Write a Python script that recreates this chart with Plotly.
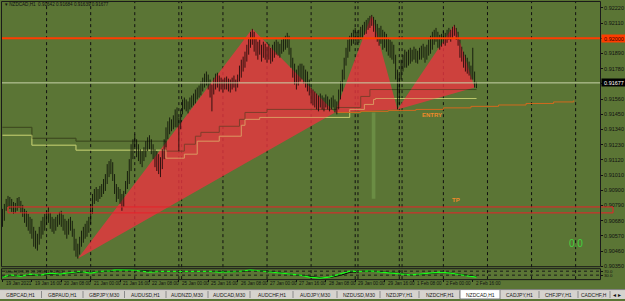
import plotly.graph_objects as go

W, H = 625, 301
BG = "#5b7535"
FONT = "Liberation Sans, Arial, sans-serif"

# ---------------- data ----------------
symbol = "NZDCAD,H1"
last_ohlc = [0.91642, 0.91684, 0.91639, 0.91677]

bar_high = [
    0.90765, 0.90801, 0.90837, 0.90859, 0.90851, 0.90837, 0.90815, 0.90808, 0.90844, 0.90851,
    0.90823, 0.90794, 0.90765, 0.90751, 0.90729, 0.90707, 0.90693, 0.90635, 0.90607, 0.90585,
    0.90635, 0.90679, 0.90707, 0.90729, 0.90751, 0.90779, 0.90736, 0.90707, 0.90693, 0.90707,
    0.90722, 0.90743, 0.90751, 0.90722, 0.90693, 0.90679, 0.90693, 0.90707, 0.90679, 0.90621,
    0.90549, 0.90513, 0.90563, 0.90607, 0.90635, 0.90657, 0.90679, 0.90707, 0.90801, 0.90873,
    0.90909, 0.90923, 0.90909, 0.90931, 0.90945, 0.90981, 0.91017, 0.91089, 0.91111, 0.91125,
    0.91103, 0.91017, 0.90945, 0.90923, 0.90909, 0.90873, 0.90895, 0.90967, 0.91039, 0.91125,
    0.91233, 0.91269, 0.91305, 0.91269, 0.91233, 0.91197, 0.91183, 0.91211, 0.91255, 0.91283,
    0.91298, 0.91269, 0.91233, 0.91197, 0.91183, 0.91161, 0.91139, 0.91197, 0.91269, 0.91355,
    0.91399, 0.91427, 0.91413, 0.91442, 0.91485, 0.91499, 0.91427, 0.91485, 0.91557, 0.91571,
    0.91557, 0.91543, 0.91571, 0.91586, 0.91600, 0.91629, 0.91643, 0.91658, 0.91687, 0.91715,
    0.91744, 0.91759, 0.91737, 0.91701, 0.91665, 0.91715, 0.91744, 0.91751, 0.91730, 0.91715,
    0.91701, 0.91715, 0.91723, 0.91708, 0.91701, 0.91715, 0.91730, 0.91701, 0.91737, 0.91802,
    0.91845, 0.91867, 0.91903, 0.91953, 0.92003, 0.92047, 0.92068, 0.92047, 0.92003, 0.91975,
    0.91989, 0.91953, 0.91975, 0.91960, 0.91939, 0.91960, 0.91931, 0.91953, 0.91975, 0.91989,
    0.91975, 0.91960, 0.91989, 0.92003, 0.92018, 0.92039, 0.92018, 0.91931, 0.91859, 0.91816,
    0.91773, 0.91802, 0.91816, 0.91816, 0.91802, 0.91773, 0.91759, 0.91701, 0.91643, 0.91629,
    0.91615, 0.91600, 0.91586, 0.91600, 0.91586, 0.91571, 0.91593, 0.91579, 0.91557, 0.91571,
    0.91586, 0.91557, 0.91543, 0.91629, 0.91687, 0.91773, 0.91859, 0.91931, 0.91989, 0.92018,
    0.92039, 0.92061, 0.92075, 0.92047, 0.92061, 0.92083, 0.92097, 0.92119, 0.92133, 0.92147,
    0.92162, 0.92169, 0.92155, 0.92133, 0.92104, 0.92075, 0.92090, 0.92061, 0.92047, 0.92032,
    0.92003, 0.91989, 0.91975, 0.91953, 0.91881, 0.91773, 0.91737, 0.91845, 0.91881, 0.91917,
    0.91903, 0.91917, 0.91931, 0.91917, 0.91939, 0.91924, 0.91910, 0.91931, 0.91946, 0.91960,
    0.91939, 0.91953, 0.91989, 0.92018, 0.92047, 0.92061, 0.92075, 0.92047, 0.92025, 0.92032,
    0.92054, 0.92039, 0.92061, 0.92075, 0.92061, 0.92083, 0.92097, 0.92075, 0.92047, 0.91989,
    0.91939, 0.91903, 0.91881, 0.91859, 0.91831, 0.91802, 0.91931, 0.91759, 0.91684,
]
bar_low = [
    0.90635, 0.90679, 0.90751, 0.90779, 0.90765, 0.90743, 0.90729, 0.90736, 0.90751, 0.90772,
    0.90736, 0.90707, 0.90664, 0.90635, 0.90607, 0.90585, 0.90549, 0.90491, 0.90477, 0.90463,
    0.90506, 0.90549, 0.90578, 0.90607, 0.90650, 0.90664, 0.90621, 0.90599, 0.90585, 0.90607,
    0.90635, 0.90650, 0.90635, 0.90607, 0.90578, 0.90549, 0.90578, 0.90607, 0.90563, 0.90463,
    0.90419, 0.90405, 0.90434, 0.90491, 0.90520, 0.90549, 0.90563, 0.90592, 0.90657, 0.90729,
    0.90801, 0.90823, 0.90815, 0.90837, 0.90851, 0.90873, 0.90895, 0.90945, 0.90995, 0.91017,
    0.90967, 0.90873, 0.90815, 0.90837, 0.90801, 0.90751, 0.90779, 0.90873, 0.90909, 0.90945,
    0.91039, 0.91125, 0.91197, 0.91139, 0.91111, 0.91089, 0.91067, 0.91111, 0.91139, 0.91183,
    0.91197, 0.91161, 0.91125, 0.91067, 0.91039, 0.91017, 0.90995, 0.91053, 0.91125, 0.91211,
    0.91269, 0.91305, 0.91327, 0.91341, 0.91355, 0.91355, 0.91183, 0.91341, 0.91449, 0.91485,
    0.91471, 0.91456, 0.91485, 0.91499, 0.91514, 0.91528, 0.91557, 0.91571, 0.91586, 0.91615,
    0.91643, 0.91658, 0.91629, 0.91571, 0.91471, 0.91593, 0.91629, 0.91643, 0.91615, 0.91629,
    0.91607, 0.91629, 0.91629, 0.91615, 0.91607, 0.91629, 0.91643, 0.91615, 0.91643, 0.91687,
    0.91715, 0.91759, 0.91787, 0.91831, 0.91881, 0.91931, 0.91953, 0.91903, 0.91874, 0.91845,
    0.91881, 0.91831, 0.91859, 0.91845, 0.91823, 0.91845, 0.91816, 0.91831, 0.91859, 0.91881,
    0.91874, 0.91859, 0.91888, 0.91903, 0.91917, 0.91931, 0.91881, 0.91787, 0.91715, 0.91665,
    0.91629, 0.91658, 0.91687, 0.91701, 0.91672, 0.91643, 0.91615, 0.91586, 0.91528, 0.91514,
    0.91499, 0.91485, 0.91471, 0.91499, 0.91485, 0.91471, 0.91499, 0.91485, 0.91471, 0.91485,
    0.91499, 0.91463, 0.91449, 0.91485, 0.91557, 0.91615, 0.91701, 0.91802, 0.91859, 0.91903,
    0.91946, 0.91960, 0.91975, 0.91953, 0.91967, 0.91989, 0.92003, 0.92025, 0.92032, 0.92061,
    0.92075, 0.92090, 0.92047, 0.92003, 0.91975, 0.91946, 0.91960, 0.91917, 0.91931, 0.91903,
    0.91874, 0.91859, 0.91845, 0.91816, 0.91701, 0.91485, 0.91521, 0.91701, 0.91759, 0.91787,
    0.91787, 0.91802, 0.91816, 0.91831, 0.91845, 0.91823, 0.91816, 0.91845, 0.91845, 0.91859,
    0.91823, 0.91845, 0.91874, 0.91888, 0.91917, 0.91953, 0.91975, 0.91931, 0.91917, 0.91939,
    0.91960, 0.91946, 0.91967, 0.91989, 0.91975, 0.92003, 0.92018, 0.91989, 0.91946, 0.91859,
    0.91831, 0.91787, 0.91759, 0.91744, 0.91730, 0.91701, 0.91701, 0.91643, 0.91639,
]
bar_index = list(range(len(bar_high)))

price_ticks = [0.90350, 0.90460, 0.90570, 0.90680, 0.90790, 0.90900, 0.91010, 0.91120, 0.91230,
               0.91340, 0.91450, 0.91560, 0.91670, 0.91780, 0.91890, 0.92000, 0.92110, 0.92220]
price_tick_text = ["0.90350", "0.90460", "0.90570", "0.90680", "0.90790", "0.90900", "0.91010",
                   "0.91120", "0.91230", "0.91340", "0.91450", "0.91560", "0.91670", "0.91780",
                   "0.91890", "0.92000", "0.92110", "0.92220"]

date_idx = [0, 16, 32, 48, 64, 80, 96, 112, 128, 144, 160, 176, 192, 208, 224, 240, 256]
date_labels = ["19 Jan 2021", "19 Jan 16:00", "20 Jan 08:00", "21 Jan 00:00", "21 Jan 16:00",
               "22 Jan 08:00", "25 Jan 00:00", "25 Jan 16:00", "26 Jan 08:00", "27 Jan 00:00",
               "27 Jan 16:00", "28 Jan 08:00", "29 Jan 00:00", "29 Jan 16:00", "1 Feb 08:00",
               "2 Feb 00:00", "2 Feb 16:00"]

day_sep_idx = [24, 48, 72, 96, 120, 144, 168, 192, 216, 240, 264, 288, 312]
extra_sep_idx = [97.5, 193.5, 217.5]

# harmonic pattern triangles (bar index, price)
tri_x = [[41, 136, 181], [181, 201, 215], [215, 246, 257]]
tri_y = [[0.90405, 0.92068, 0.91463], [0.91463, 0.92169, 0.91485], [0.91485, 0.92097, 0.91643]]

# two step lines
dark_x = [0, 16, 40, 89, 99, 105, 108, 118, 129, 132, 144, 182, 195, 200, 258]
dark_y = [0.91355, 0.91276, 0.91255, 0.91183, 0.91233, 0.91291, 0.91319, 0.91363, 0.91413,
          0.91463, 0.91485, 0.91499, 0.91579, 0.91629, 0.91629]
light_x = [0, 16, 40, 89, 99, 106, 118, 130, 132, 140, 189, 197, 202, 203, 258]
light_y = [0.91298, 0.91226, 0.91190, 0.91132, 0.91161, 0.91255, 0.91291, 0.91370, 0.91413,
           0.91427, 0.91485, 0.91521, 0.91557, 0.91564, 0.91564]

# rising orange projection line
orange_x = [182, 195, 210, 225, 240, 255, 270, 285, 300, 311]
orange_y = [0.91463, 0.91471, 0.91478, 0.91485, 0.91496, 0.91507, 0.91517, 0.91528, 0.91539, 0.91550]

resist_level = 0.92000
tp_top, tp_bottom = 0.90779, 0.90736
zone_x = [201, 203]
zone_y = [0.90839, 0.91463]

# oscillator sub-window
osc_x = [0, 4, 10, 15, 20, 26, 31, 42, 48, 53, 59, 61, 71, 75, 80, 86, 91, 97, 102, 108, 113, 118,
         124, 129, 135, 140, 146, 151, 157, 162, 167, 173, 178, 184, 189, 195, 200, 206, 211, 216,
         222, 227, 233, 238, 244, 249, 254, 258]
osc_main = [7, 33, 17, 40, 27, 50, 40, 67, 50, 67, 73, 83, 80, 73, 60, 67, 67, 67, 67, 73, 67, 60,
            67, 67, 83, 73, 60, 50, 40, 30, 10, 0, 10, 40, 70, 67, 73, 60, 50, 40, 33, 40, 50, 60,
            50, 33, 20, 10]
osc_signal = [10, 25, 22, 32, 30, 42, 42, 58, 55, 62, 70, 76, 80, 76, 65, 65, 66, 66, 66, 70, 68, 63,
              65, 66, 77, 76, 65, 55, 45, 35, 18, 5, 6, 28, 58, 68, 70, 64, 55, 45, 36, 38, 46, 56,
              53, 40, 27, 15]
osc_levels = [70, 30]

tab_names = ["GBPCAD,H1", "GBPAUD,H1", "GBPJPY,M30", "AUDUSD,H1", "AUDNZD,M30", "AUDCAD,M30",
             "AUDCHF,H1", "AUDJPY,M30", "NZDUSD,M30", "NZDJPY,H1", "NZDCHF,H1", "NZDCAD,H1",
             "CADJPY,H1", "CHFJPY,H1", "CADCHF,H"]
active_tab = "NZDCAD,H1"

# ---------------- layout helpers ----------------
tab_edges = [0, 41.5, 83, 124.5, 166, 208, 250, 293, 337, 380, 419, 460, 500, 539, 578, 610]
PX_PER_BAR = 1.837
X0_PX = 2.5


def idx_at(px):
    return (px - X0_PX) / PX_PER_BAR


def price_at(pix):
    return 0.90350 + (268 - pix) * 0.0000719


def pxp(px):
    return px / W


def pyp(py):
    return 1 - py / H


xr = [idx_at(2), idx_at(600)]
yr = [price_at(269), price_at(2)]

fig = go.Figure()

# step lines
fig.add_trace(go.Scatter(x=dark_x, y=dark_y, mode="lines", line=dict(color="#38401c", width=1, shape="hv"),
                         opacity=0.6, hoverinfo="skip"))
fig.add_trace(go.Scatter(x=light_x, y=light_y, mode="lines", line=dict(color="#d6de7b", width=1, shape="hv"),
                         opacity=0.6, hoverinfo="skip"))
# triangles
for tx, ty in zip(tri_x, tri_y):
    fig.add_trace(go.Scatter(x=tx + [tx[0]], y=ty + [ty[0]], mode="lines", fill="toself",
                             fillcolor="rgba(234,52,64,0.8)", line=dict(width=0), hoverinfo="skip"))
# step lines over red
fig.add_trace(go.Scatter(x=dark_x, y=dark_y, mode="lines", line=dict(color="#38401c", width=1, shape="hv"),
                         opacity=0.5, hoverinfo="skip"))
fig.add_trace(go.Scatter(x=light_x, y=light_y, mode="lines", line=dict(color="#d6de7b", width=1, shape="hv"),
                         opacity=0.5, hoverinfo="skip"))
# orange projection
fig.add_trace(go.Scatter(x=orange_x, y=orange_y, mode="lines", line=dict(color="#d2691e", width=1, shape="hv"),
                         hoverinfo="skip"))
# price bars as thin high-low segments
seg_x, seg_y = [], []
for i, h, l in zip(bar_index, bar_high, bar_low):
    seg_x += [i, i, None]
    seg_y += [l, h, None]
fig.add_trace(go.Scatter(x=seg_x, y=seg_y, mode="lines", line=dict(color="#000000", width=0.75),
                         hoverinfo="skip", connectgaps=False))

# oscillator
fig.add_trace(go.Scatter(x=osc_x, y=osc_signal, mode="lines", line=dict(color="#000000", width=1),
                         xaxis="x2", yaxis="y2", hoverinfo="skip"))
fig.add_trace(go.Scatter(x=osc_x, y=osc_main, mode="lines", line=dict(color="#19ff19", width=1.2),
                         xaxis="x2", yaxis="y2", hoverinfo="skip"))

shapes = []
# vertical separators
for i in day_sep_idx + extra_sep_idx:
    shapes.append(dict(type="line", xref="x", yref="paper", x0=i, x1=i, y0=pyp(281), y1=pyp(2),
                       line=dict(color="#111111", width=1, dash="dot"), layer="below"))
# zone rectangle
shapes.append(dict(type="rect", xref="x", yref="y", x0=zone_x[0], x1=zone_x[1], y0=zone_y[0], y1=zone_y[1],
                   fillcolor="rgba(120,160,80,0.55)", line=dict(width=0), layer="below"))
# resistance line
shapes.append(dict(type="line", xref="paper", yref="y", x0=pxp(2), x1=pxp(600), y0=resist_level, y1=resist_level,
                   line=dict(color="#ff3c00", width=2)))
# bid line
shapes.append(dict(type="line", xref="paper", yref="y", x0=pxp(2), x1=pxp(600), y0=last_ohlc[3], y1=last_ohlc[3],
                   line=dict(color="#c8d2a8", width=1)))
# TP box
shapes.append(dict(type="rect", xref="paper", yref="y", x0=pxp(8), x1=pxp(613), y0=tp_bottom, y1=tp_top,
                   line=dict(color="#e8202a", width=1)))
# oscillator levels
for lv in osc_levels:
    shapes.append(dict(type="line", xref="paper", yref="y2", x0=pxp(2), x1=pxp(600), y0=lv, y1=lv,
                       line=dict(color="#1a1a1a", width=1, dash="dot")))
# window borders
shapes.append(dict(type="rect", xref="paper", yref="paper", x0=pxp(1.5), x1=pxp(600.5), y0=pyp(268.5), y1=pyp(1.5),
                   line=dict(color="#1a1a1a", width=1)))
shapes.append(dict(type="rect", xref="paper", yref="paper", x0=pxp(1.5), x1=pxp(600.5), y0=pyp(281.5), y1=pyp(270.5),
                   line=dict(color="#1a1a1a", width=1)))
# tab bar
shapes.append(dict(type="rect", xref="paper", yref="paper", x0=0, x1=1, y0=0, y1=pyp(291.5),
                   fillcolor="#d6d3ce", line=dict(width=0)))
shapes.append(dict(type="line", xref="paper", yref="paper", x0=0, x1=1, y0=pyp(291.5), y1=pyp(291.5),
                   line=dict(color="#808080", width=1)))
annotations = []
for k, name in enumerate(tab_names):
    a, b = tab_edges[k], tab_edges[k + 1]
    if name == active_tab:
        shapes.append(dict(type="rect", xref="paper", yref="paper", x0=pxp(a), x1=pxp(b), y0=0, y1=pyp(291.5),
                           fillcolor="#ffffff", line=dict(color="#808080", width=1)))
    else:
        shapes.append(dict(type="line", xref="paper", yref="paper", x0=pxp(b), x1=pxp(b), y0=pyp(300), y1=pyp(293),
                           line=dict(color="#8a8a8a", width=1)))
    annotations.append(dict(x=pxp((a + b) / 2), y=pyp(296.5), xref="paper", yref="paper", text=name,
                            showarrow=False, font=dict(size=5, color="#1a1a1a", family=FONT),
                            xanchor="center", yanchor="middle"))
annotations.append(dict(x=pxp(617), y=pyp(296.5), xref="paper", yref="paper", text="◂ ▸", showarrow=False,
                        font=dict(size=6, color="#111", family="DejaVu Sans"), xanchor="center", yanchor="middle"))

# date labels (left aligned at their bar)
for i, lab in zip(date_idx, date_labels):
    annotations.append(dict(x=i, y=pyp(285.5), xref="x2", yref="paper", text=lab, showarrow=False,
                            xanchor="left", yanchor="middle", xshift=1,
                            font=dict(size=4.6, color="#111", family=FONT)))

# texts
annotations.append(dict(x=pxp(3), y=pyp(5), xref="paper", yref="paper",
                        text="▾ " + symbol + "  " + " ".join(f"{v:.5f}" for v in last_ohlc),
                        showarrow=False, xanchor="left", yanchor="middle",
                        font=dict(size=4.6, color="#111", family=FONT)))
annotations.append(dict(x=pxp(3), y=pyp(273.5), xref="paper", yref="paper",
                        text="Stoch(8,3,3) 10.1356 15.2741", showarrow=False, xanchor="left", yanchor="middle",
                        font=dict(size=4.4, color="#111", family=FONT)))
annotations.append(dict(x=234, y=0.91442, xref="x", yref="y", text="<b>ENTRY</b>", showarrow=False,
                        font=dict(size=6, color="#ef8a2a", family=FONT)))
annotations.append(dict(x=247, y=0.90830, xref="x", yref="y", text="<b>TP</b>", showarrow=False,
                        font=dict(size=6, color="#ef8a2a", family=FONT)))
annotations.append(dict(x=pxp(585), y=pyp(253), xref="paper", yref="paper", text="0.0", showarrow=False,
                        font=dict(size=10, color="#3fd43f", family=FONT)))
annotations.append(dict(x=pxp(601), y=resist_level, xref="paper", yref="y", text=f"{resist_level:.5f}",
                        showarrow=False, xanchor="left", yanchor="middle", bgcolor="#ff3c00", width=23,
                        borderpad=0.5, font=dict(size=5.5, color="#3a0000", family=FONT)))
annotations.append(dict(x=pxp(601), y=last_ohlc[3], xref="paper", yref="y", text=f"{last_ohlc[3]:.5f}",
                        showarrow=False, xanchor="left", yanchor="middle", bgcolor="#000000", width=23,
                        borderpad=0.5, font=dict(size=5.5, color="#ffffff", family=FONT)))

fig.update_layout(
    width=W, height=H, margin=dict(l=0, r=0, t=0, b=0),
    paper_bgcolor=BG, plot_bgcolor="rgba(0,0,0,0)", showlegend=False,
    xaxis=dict(domain=[pxp(2), pxp(600)], range=xr, visible=False, anchor="y", fixedrange=True),
    yaxis=dict(domain=[pyp(269), pyp(2)], range=yr, side="right", anchor="x",
               tickvals=price_ticks, ticktext=price_tick_text, ticks="outside", ticklen=2,
               tickcolor="#111", tickfont=dict(size=5.5, color="#111", family=FONT),
               showgrid=False, zeroline=False, showline=False, fixedrange=True),
    xaxis2=dict(domain=[pxp(2), pxp(600)], range=xr, anchor="y2", tickvals=date_idx, showticklabels=False,
                ticks="outside", ticklen=2, tickcolor="#111", showgrid=False, zeroline=False,
                showline=False, fixedrange=True),
    yaxis2=dict(domain=[pyp(281), pyp(270)], range=[-10, 100], side="right", anchor="x2",
                tickvals=osc_levels, ticktext=["70.0", "30.0"], ticks="outside", ticklen=2, tickcolor="#111",
                tickfont=dict(size=4.4, color="#111", family=FONT), showgrid=False, zeroline=False,
                showline=False, fixedrange=True),
    shapes=shapes, annotations=annotations,
)

fig.write_html("out.html")
